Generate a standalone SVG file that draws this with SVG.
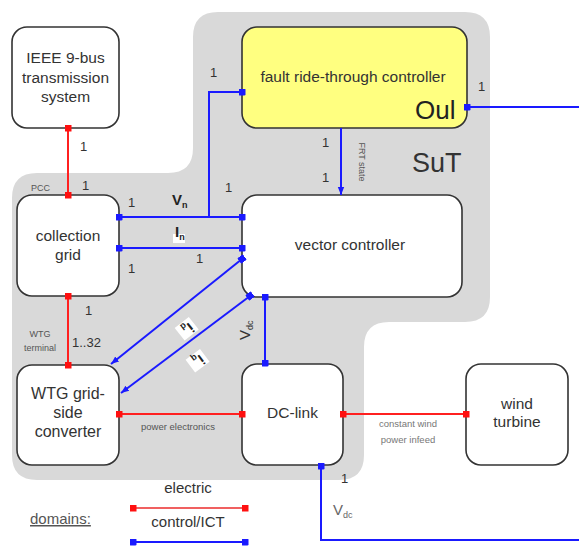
<svg xmlns="http://www.w3.org/2000/svg" width="579" height="547" viewBox="0 0 579 547">
<style>
text{font-family:"Liberation Sans",Arial,sans-serif;fill:#333}
.node{fill:#fff;stroke:#333;stroke-width:1.6}
.lbl{font-size:15.5px;text-anchor:middle}
.num{font-size:13px}
.sm{font-size:9px;fill:#555}
.e{stroke:#ff2020;stroke-width:2;fill:none}
.c{stroke:#1a1aff;stroke-width:2;fill:none}
.b{font-weight:bold;font-size:15px;fill:#222}
</style>
<defs>
<marker id="sr" viewBox="0 0 8 8" refX="4" refY="4" markerWidth="7" markerHeight="7" markerUnits="userSpaceOnUse"><rect width="8" height="8" fill="#ff1010"/></marker>
<marker id="sb" viewBox="0 0 8 8" refX="4" refY="4" markerWidth="7" markerHeight="7" markerUnits="userSpaceOnUse" orient="auto"><rect width="8" height="8" rx="1.5" fill="#1a1aff"/></marker>
<marker id="ab" viewBox="0 0 10 10" refX="10" refY="5" markerWidth="8" markerHeight="8" orient="auto" markerUnits="userSpaceOnUse"><path d="M0,1 L10,5 L0,9 z" fill="#1a1aff"/></marker>
</defs>
<path id="SuT" d="M218,12 H465 Q490,12 490,37 V297 Q490,322 465,322 H389 Q364,322 364,347 V455 Q364,480 339,480 H37 Q12,480 12,455 V198 Q12,173 37,173 H168 Q193,173 193,148 V37 Q193,12 218,12 Z" fill="#d9d9d9"/>
<text x="412" y="172" font-size="27">SuT</text>
<g id="n-ieee"><rect class="node" x="12" y="27" width="107" height="101" rx="15"/><text class="lbl" x="65.5" y="63">IEEE 9-bus</text><text class="lbl" x="65.5" y="82.5">transmission</text><text class="lbl" x="65.5" y="102">system</text></g>
<g id="n-frt"><rect class="node" x="242" y="27" width="225" height="101" rx="15" style="fill:#ffff80"/><text class="lbl" x="353" y="82">fault ride-through controller</text><text x="415" y="119" font-size="26" style="fill:#222">Oul</text></g>
<g id="n-cg"><rect class="node" x="17" y="195" width="102" height="101" rx="15"/><text class="lbl" x="68" y="241">collection</text><text class="lbl" x="68" y="260">grid</text></g>
<g id="n-vc"><rect class="node" x="242" y="195" width="220" height="102" rx="15"/><text class="lbl" x="350" y="250">vector controller</text></g>
<g id="n-wtg"><rect class="node" x="17" y="365" width="102" height="100" rx="15"/><text class="lbl" x="68" y="399" style="font-size:16px">WTG grid-</text><text class="lbl" x="68" y="418" style="font-size:16px">side</text><text class="lbl" x="68" y="437" style="font-size:16px">converter</text></g>
<g id="n-dc"><rect class="node" x="242" y="364" width="101" height="101" rx="15"/><text class="lbl" x="292.5" y="418">DC-link</text></g>
<g id="n-wt"><rect class="node" x="466" y="364" width="102" height="101" rx="15"/><text class="lbl" x="517" y="409">wind</text><text class="lbl" x="517" y="427">turbine</text></g>
<g id="connectors">
<path class="e" d="M68,128 V195" marker-start="url(#sr)" marker-end="url(#sr)"/>
<path class="e" d="M68,296 V365" marker-start="url(#sr)" marker-end="url(#sr)"/>
<path class="e" d="M119,414 H242" marker-start="url(#sr)" marker-end="url(#sr)"/>
<path class="e" d="M343,414 H466" marker-start="url(#sr)" marker-end="url(#sr)"/>
<path class="c" d="M242,92 H209 V217" marker-start="url(#sb)"/>
<path class="c" d="M119,217 H242" marker-start="url(#sb)" marker-end="url(#sb)"/>
<path class="c" d="M119,248 H242" marker-start="url(#sb)" marker-end="url(#sb)"/>
<path class="c" d="M467,107 H579" marker-start="url(#sb)"/>
<path class="c" d="M341,128 V195" marker-end="url(#ab)"/>
<path class="c" d="M242,259 L111,364" marker-start="url(#sb)" marker-end="url(#ab)"/>
<path class="c" d="M250,296 L121,393" marker-start="url(#sb)" marker-end="url(#ab)"/>
<path class="c" d="M265,297 V363" marker-start="url(#sb)" marker-end="url(#sb)"/>
<path class="c" d="M321,466 V540 H579" marker-start="url(#sb)"/>
</g>
<g id="labels">
<text class="num" x="80" y="151">1</text>
<text class="num" x="82" y="190">1</text>
<text class="sm" x="31" y="191">PCC</text>
<text class="num" x="128" y="207">1</text>
<text class="b" x="172" y="205">V<tspan font-size="9" dy="3">n</tspan></text>
<text class="num" x="225" y="192">1</text>
<text class="num" x="210" y="77">1</text>
<text class="num" x="478" y="91">1</text>
<rect x="173" y="234" width="12" height="9" fill="#fff"/>
<text class="b" x="175" y="237">I<tspan font-size="9" dy="3">n</tspan></text>
<text class="num" x="196" y="263">1</text>
<text class="num" x="128" y="273">1</text>
<text class="num" x="85" y="315">1</text>
<text class="num" x="72" y="347">1..32</text>
<text class="sm" x="40" y="337" text-anchor="middle">WTG</text>
<text class="sm" x="40" y="351" text-anchor="middle">terminal</text>
<text class="num" x="322" y="147">1</text>
<text class="num" x="322" y="182">1</text>
<text class="sm" transform="translate(359,162) rotate(90)" text-anchor="middle">FRT state</text>
<g transform="translate(185,325) rotate(141.6)"><rect x="-8" y="-12" width="18" height="16" fill="#fff"/><text class="b" x="-5" y="0">i<tspan font-size="9" dy="3">d</tspan></text></g>
<g transform="translate(196,357) rotate(143.3)"><rect x="-8" y="-12" width="18" height="16" fill="#fff"/><text class="b" x="-5" y="0">i<tspan font-size="9" dy="3">q</tspan></text></g>
<text transform="translate(250,340) rotate(-90)" font-size="15">V<tspan font-size="9" dy="3">dc</tspan></text>
<text class="sm" x="178" y="430" text-anchor="middle" style="font-size:9.5px">power electronics</text>
<text class="sm" x="408" y="427" text-anchor="middle" style="font-size:9.5px;fill:#777">constant wind</text>
<text class="sm" x="408" y="443" text-anchor="middle" style="font-size:9.5px;fill:#777">power infeed</text>
<text class="num" x="341" y="483">1</text>
<text x="333" y="515" font-size="15" style="fill:#666">V<tspan font-size="9" dy="3">dc</tspan></text>
</g>
<g id="legend">
<text x="188" y="493" font-size="15" text-anchor="middle">electric</text>
<path d="M133,508 H245" stroke="#f06060" stroke-width="2" marker-start="url(#sr)" marker-end="url(#sr)"/>
<text x="188" y="527" font-size="15" text-anchor="middle">control/ICT</text>
<path d="M133,542 H245" stroke="#1a1aff" stroke-width="2" marker-start="url(#sb)" marker-end="url(#sb)"/>
<text x="30" y="524" font-size="15" text-decoration="underline" style="fill:#555">domains:</text>
</g>
</svg>
